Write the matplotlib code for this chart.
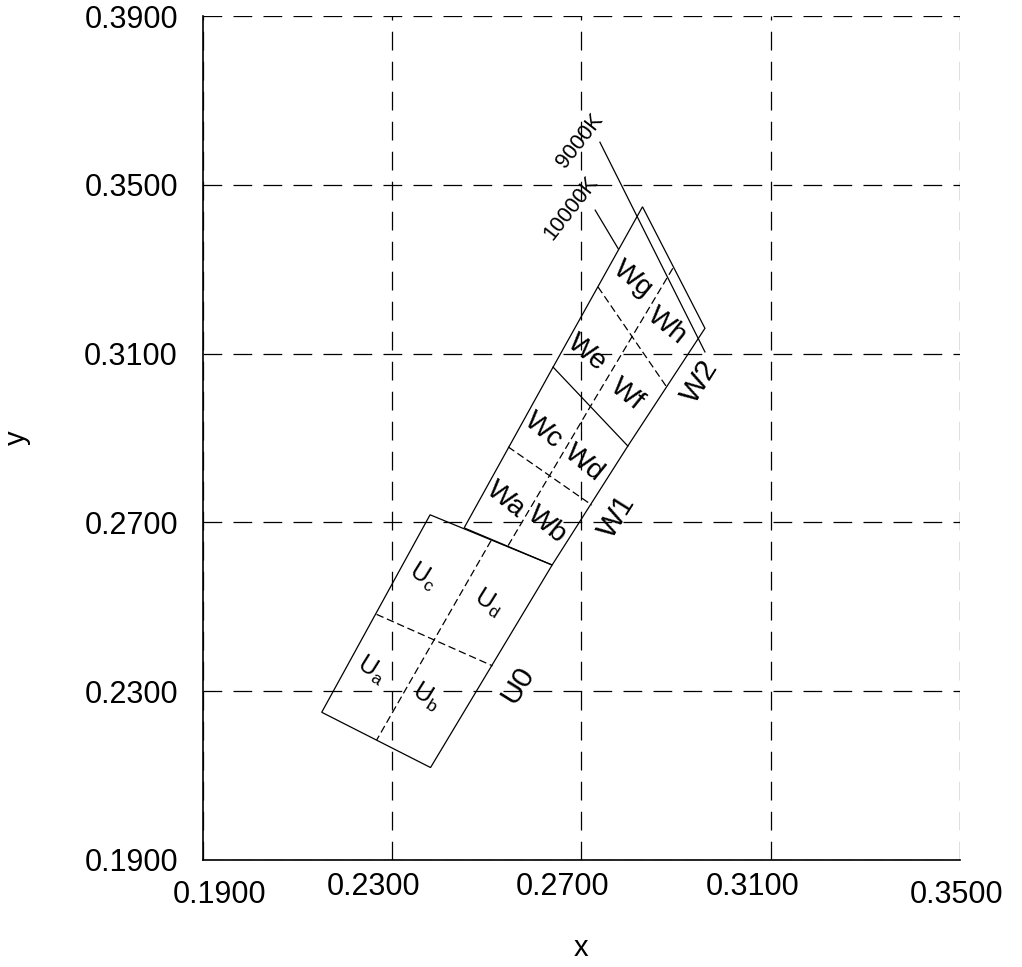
import matplotlib.pyplot as plt
import matplotlib.transforms as mtransforms

plt.rcParams['font.family'] = ['Liberation Sans', 'DejaVu Sans']

# U bin outline (corners) and its quarter lines
u_x = [0.2380, 0.2151, 0.2381, 0.2638]
u_y = [0.2718, 0.2250, 0.2119, 0.2599]
u_cross_x = [0.2267, 0.2512]
u_cross_y = [0.2482, 0.2360]
u_long_x = [0.2509, 0.2267]
u_long_y = [0.2657, 0.2184]

# W bins outline: BL, ML, TL, TR, MR, BR
w_x = [0.2452, 0.2640, 0.2829, 0.2961, 0.2798, 0.2638]
w_y = [0.2687, 0.3068, 0.3448, 0.3160, 0.2881, 0.2599]
w1_cross_x = [0.2545, 0.2722]
w1_cross_y = [0.2879, 0.2741]
w2_cross_x = [0.2735, 0.2880]
w2_cross_y = [0.3258, 0.3021]
w_long_x = [0.2545, 0.2719, 0.2894]
w_long_y = [0.2645, 0.2975, 0.3304]

# isotemperature lines
k9000_x = [0.2739, 0.2961]
k9000_y = [0.3601, 0.3104]
k10000_x = [0.2729, 0.2778]
k10000_y = [0.3440, 0.3348]

ticks_x = [0.19, 0.23, 0.27, 0.31, 0.35]
ticks_y = [0.19, 0.23, 0.27, 0.31, 0.35, 0.39]

# bin labels: text, x, y, rotation, size
labels = [
    ('Wa', 0.2540, 0.2753, -39, 20.5),
    ('Wb', 0.2627, 0.2694, -39, 20.5),
    ('Wc', 0.2619, 0.2917, -39, 20.5),
    ('Wd', 0.2705, 0.2841, -39, 20.5),
    ('We', 0.2712, 0.3101, -39, 20.5),
    ('Wf', 0.2796, 0.3004, -39, 20.5),
    ('Wg', 0.2809, 0.3277, -39, 20.5),
    ('Wh', 0.2881, 0.3165, -39, 20.5),
    ('W1', 0.2775, 0.2713, 58, 21.5),
    ('W2', 0.2950, 0.3033, 58, 21.5),
    ('U0', 0.2566, 0.2315, 58, 21.5),
    (r'$\mathregular{U_a}$', 0.2257, 0.2350, -32, 18),
    (r'$\mathregular{U_b}$', 0.2373, 0.2286, -32, 18),
    (r'$\mathregular{U_c}$', 0.2365, 0.2571, -32, 18),
    (r'$\mathregular{U_d}$', 0.2502, 0.2511, -32, 18),
    ('9000K', 0.2697, 0.3603, 52, 15.5),
    ('10000K', 0.2677, 0.3444, 52, 15.5),
]

fig = plt.figure(figsize=(10.22, 9.67), dpi=100)
ax = fig.add_axes([0.1986, 0.1107, 0.7407, 0.8727])

ax.set_xlim(0.19, 0.35)
ax.set_ylim(0.19, 0.39)
ax.set_xticks(ticks_x)
ax.set_yticks(ticks_y)
ax.set_xticklabels([f"{v:.4f}" for v in ticks_x])
ax.set_yticklabels([f"{v:.4f}" for v in ticks_y])
ax.tick_params(length=0, labelsize=22)
ax.tick_params(axis='x', pad=9)
ax.tick_params(axis='y', pad=18)

ax.grid(True, color='black', linewidth=0.9, linestyle=(0, (15, 9)))
ax.set_axisbelow(True)
for side in ['top', 'right']:
    ax.spines[side].set_visible(False)
for side in ['left', 'bottom']:
    ax.spines[side].set_linewidth(1.2)

# small per-label shifts seen in the reference
shifts = [(17, -8), (-19, 0), (-19, 0), (-18, 0), (-3, -8)]
for lab, (dx, dy) in zip(ax.get_xticklabels(), shifts):
    off = mtransforms.ScaledTranslation(dx / 100, dy / 100, fig.dpi_scale_trans)
    lab.set_transform(lab.get_transform() + off)

ax.set_xlabel('x', fontsize=21)
ax.set_ylabel('y', fontsize=21)
ax.xaxis.label.set_va('center')
ax.yaxis.label.set_va('center')
ax.xaxis.set_label_coords(0.5, -0.104)
ax.yaxis.set_label_coords(-0.246, 0.5)

thin = 0.9
dash = (0, (6, 3))
ax.fill(u_x, u_y, fill=False, edgecolor='black', linewidth=thin)
ax.plot(u_cross_x, u_cross_y, color='black', linewidth=thin, linestyle=dash)
ax.plot(u_long_x, u_long_y, color='black', linewidth=thin, linestyle=dash)

ax.fill(w_x, w_y, fill=False, edgecolor='black', linewidth=thin)
ax.plot([w_x[1], w_x[4]], [w_y[1], w_y[4]], color='black', linewidth=thin)
ax.plot(w1_cross_x, w1_cross_y, color='black', linewidth=thin, linestyle=dash)
ax.plot(w2_cross_x, w2_cross_y, color='black', linewidth=thin, linestyle=dash)
ax.plot(w_long_x, w_long_y, color='black', linewidth=thin, linestyle=dash)

ax.plot(k9000_x, k9000_y, color='black', linewidth=thin)
ax.plot(k10000_x, k10000_y, color='black', linewidth=thin)

for txt, x, y, rot, size in labels:
    ax.text(x, y, txt, fontsize=size, rotation=rot, ha='center', va='center',
            rotation_mode='anchor')

fig.savefig('out.png', dpi=100)
